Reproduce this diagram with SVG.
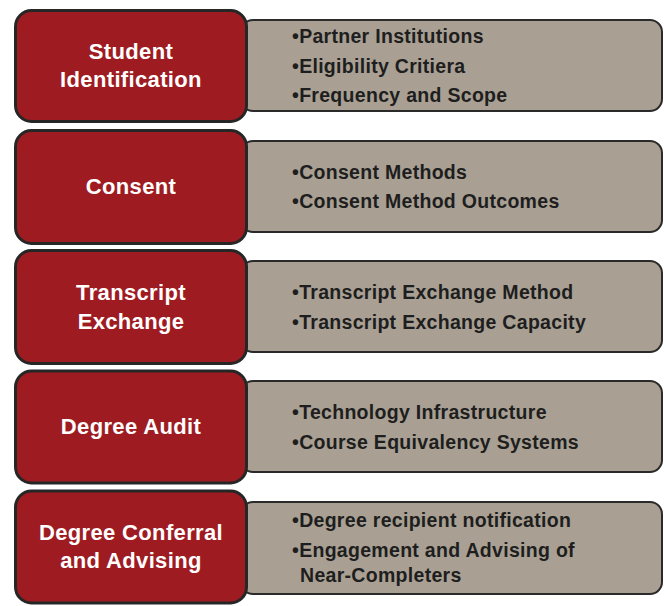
<svg xmlns="http://www.w3.org/2000/svg" width="669" height="606" viewBox="0 0 669 606">
<style>
.tab{fill:#a9a093;stroke:#2a2a2a;stroke-width:2}
.head{fill:#9e1c21;stroke:#262626;stroke-width:3}
.ht{font-family:"Liberation Sans",Arial,sans-serif;font-weight:bold;font-size:22px;fill:#ffffff;text-anchor:middle;letter-spacing:0.35px}
.bt{font-family:"Liberation Sans",Arial,sans-serif;font-weight:bold;font-size:19.5px;fill:#1e1e1e;letter-spacing:0.3px}
</style>
<rect width="669" height="606" fill="#ffffff"/>
<g id="connectors"></g>
<g id="node1">
<rect class="tab" x="241" y="20" width="421" height="91" rx="12"/>
<rect class="head" x="15.5" y="10.5" width="231" height="111" rx="16"/>
<text class="ht" x="131" y="58.5">Student</text>
<text class="ht" x="131" y="86.5">Identification</text>
<text class="bt" x="292" y="43">•Partner Institutions</text>
<text class="bt" x="292" y="72.5">•Eligibility Critiera</text>
<text class="bt" x="292" y="102">•Frequency and Scope</text>
</g>
<g id="node2">
<rect class="tab" x="241" y="141" width="421" height="91" rx="12"/>
<rect class="head" x="15.5" y="130.5" width="231" height="113" rx="16"/>
<text class="ht" x="131" y="193.5">Consent</text>
<text class="bt" x="292" y="179">•Consent Methods</text>
<text class="bt" x="292" y="208">•Consent Method Outcomes</text>
</g>
<g id="node3">
<rect class="tab" x="241" y="261" width="421" height="91" rx="12"/>
<rect class="head" x="15.5" y="250.5" width="231" height="113" rx="16"/>
<text class="ht" x="131" y="300">Transcript</text>
<text class="ht" x="131" y="328.5">Exchange</text>
<text class="bt" x="292" y="299">•Transcript Exchange Method</text>
<text class="bt" x="292" y="328.5">•Transcript Exchange Capacity</text>
</g>
<g id="node4">
<rect class="tab" x="241" y="381" width="421" height="91" rx="12"/>
<rect class="head" x="15.5" y="371" width="231" height="112" rx="16"/>
<text class="ht" x="131" y="434">Degree Audit</text>
<text class="bt" x="292" y="419">•Technology Infrastructure</text>
<text class="bt" x="292" y="448.5">•Course Equivalency Systems</text>
</g>
<g id="node5">
<rect class="tab" x="241" y="502" width="421" height="92" rx="12"/>
<rect class="head" x="15.5" y="491" width="231" height="112" rx="16"/>
<text class="ht" x="131" y="540">Degree Conferral</text>
<text class="ht" x="131" y="568">and Advising</text>
<text class="bt" x="292" y="527">•Degree recipient notification</text>
<text class="bt" x="292" y="556.5">•Engagement and Advising of</text>
<text class="bt" x="300" y="582">Near-Completers</text>
</g>
</svg>
